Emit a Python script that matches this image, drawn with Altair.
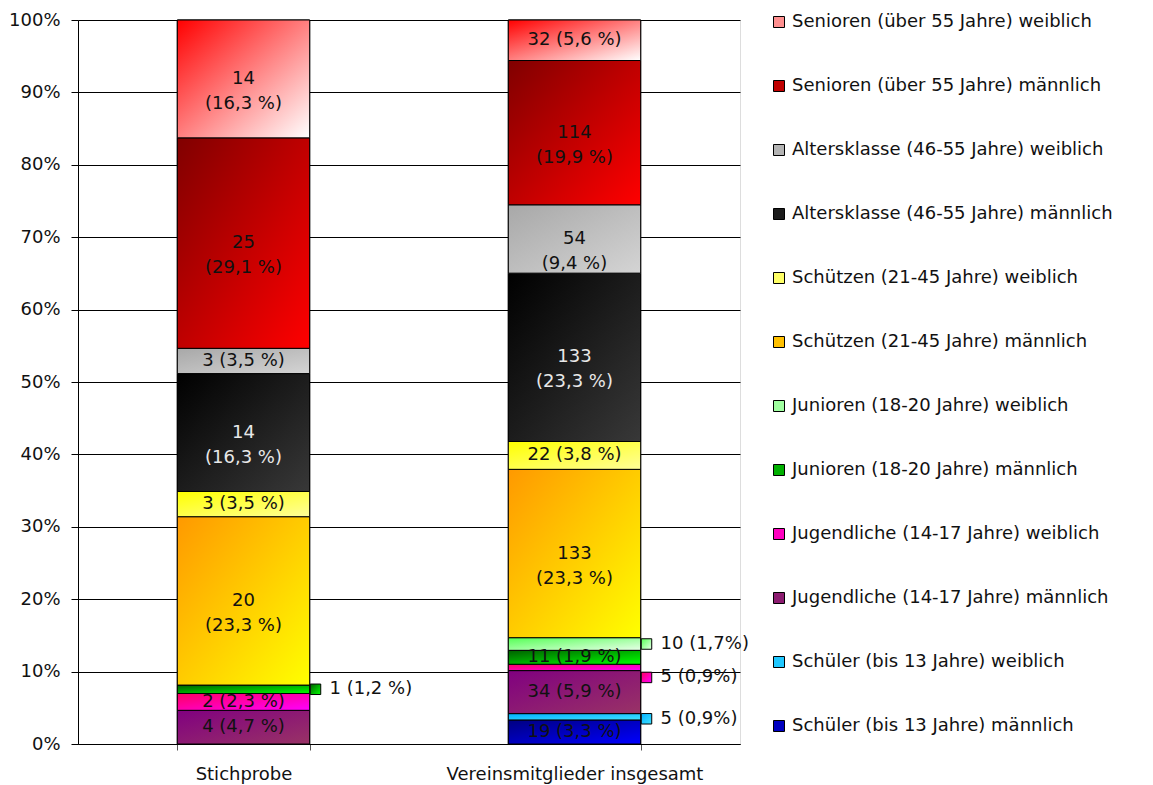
import altair as alt
import pandas as pd

categories = ["Stichprobe", "Vereinsmitglieder insgesamt"]

series = [
    "Schüler (bis 13 Jahre) männlich",
    "Schüler (bis 13 Jahre) weiblich",
    "Jugendliche (14-17 Jahre) männlich",
    "Jugendliche (14-17 Jahre) weiblich",
    "Junioren (18-20 Jahre) männlich",
    "Junioren (18-20 Jahre) weiblich",
    "Schützen (21-45 Jahre) männlich",
    "Schützen (21-45 Jahre) weiblich",
    "Altersklasse (46-55 Jahre) männlich",
    "Altersklasse (46-55 Jahre) weiblich",
    "Senioren (über 55 Jahre) männlich",
    "Senioren (über 55 Jahre) weiblich",
]

stichprobe = [0, 0, 4, 2, 1, 0, 20, 3, 14, 3, 25, 14]
vereinsmitglieder = [19, 5, 34, 5, 11, 10, 133, 22, 133, 54, 114, 32]

labels_stichprobe = ["", "", "4 (4,7 %)", "2 (2,3 %)", "1 (1,2 %)", "",
                     "20\n(23,3 %)", "3 (3,5 %)", "14\n(16,3 %)", "3 (3,5 %)",
                     "25\n(29,1 %)", "14\n(16,3 %)"]
labels_verein = ["19 (3,3 %)", "5 (0,9%)", "34 (5,9 %)", "5 (0,9%)", "11 (1,9 %)",
                 "10 (1,7%)", "133\n(23,3 %)", "22 (3,8 %)", "133\n(23,3 %)",
                 "54\n(9,4 %)", "114\n(19,9 %)", "32 (5,6 %)"]

# labels drawn outside the bar (category, series index)
outside = [(0, 4), (1, 1), (1, 3), (1, 5)]

# gradient start / end colours and legend colour per series
grad_start = ["#000080", "#00B0FF", "#800080", "#FF0060", "#006000", "#55FF55",
              "#FF9900", "#FFFF00", "#000000", "#A8A8A8", "#800000", "#FF0000"]
grad_end = ["#0000FF", "#40E0FF", "#993366", "#FF00FF", "#00FF00", "#E8FFE8",
            "#FFFF00", "#FFFF99", "#383838", "#D4D4D4", "#FF0000", "#FFFFFF"]
legend_col = ["#0000C0", "#20C8FF", "#8C1C70", "#FF00C0", "#00B000", "#A0FFA0",
              "#FFC000", "#FFFF66", "#1C1C1C", "#B4B4B4", "#C00000", "#FF9090"]

rows = []
for ci, (cat, vals, labs) in enumerate([(categories[0], stichprobe, labels_stichprobe),
                                        (categories[1], vereinsmitglieder, labels_verein)]):
    for i, s in enumerate(series):
        rows.append({"cat": cat, "series": s, "idx": i, "value": vals[i],
                     "label": labs[i], "out": (ci, i) in outside})
df = pd.DataFrame(rows)

FONT = "DejaVu Sans"
FS = 18

base = (
    alt.Chart(df)
    .transform_stack(stack="value", groupby=["cat"],
                     sort=[alt.SortField("idx", order="ascending")],
                     as_=["y0", "y1"], offset="normalize")
    .transform_filter("datum.value > 0")
    .transform_calculate(ym="(datum.y0 + datum.y1) / 2")
)

xenc = alt.X("cat:N", sort=categories, title=None,
             scale=alt.Scale(paddingInner=0.6, paddingOuter=0.3),
             axis=alt.Axis(labelAngle=0, labelFontSize=FS, labelColor="#111",
                           labelFont=FONT, labelPadding=15, tickBand="extent",
                           tickSize=6, tickColor="#555", domainColor="#000",
                           labelLimit=400))
yenc = alt.Y("y0:Q", title=None,
             scale=alt.Scale(domain=[0, 1], nice=False),
             axis=alt.Axis(values=[i / 10 for i in range(11)], format=".0%",
                           labelFontSize=FS, labelColor="#111", labelFont=FONT,
                           grid=True, gridColor="#000", gridWidth=1,
                           tickSize=7, tickColor="#000", labelPadding=11,
                           domainColor="#000"))

legend_layer = base.mark_bar(stroke="black", strokeWidth=1).encode(
    x=xenc, y=yenc, y2="y1:Q",
    color=alt.Color("series:N",
                    scale=alt.Scale(domain=list(reversed(series)),
                                    range=list(reversed(legend_col))),
                    legend=alt.Legend(orient="none", legendX=692, legendY=-7,
                                      title=None, symbolType="square",
                                      symbolSize=121, symbolStrokeColor="#000",
                                      symbolStrokeWidth=1, symbolOpacity=1,
                                      labelFontSize=FS, labelFont=FONT,
                                      labelColor="#111", labelLimit=0,
                                      rowPadding=46, labelOffset=4, padding=0)),
)

layers = [legend_layer]
for i, s in enumerate(series):
    g = alt.Gradient(gradient="linear",
                     stops=[alt.GradientStop(color=grad_start[i], offset=0),
                            alt.GradientStop(color=grad_end[i], offset=1)],
                     x1=0, y1=0, x2=1, y2=1)
    layers.append(
        base.transform_filter(alt.datum.series == s)
        .mark_bar(fill=g, stroke="black", strokeWidth=1)
        .encode(x="cat:N", y="y0:Q", y2="y1:Q")
    )

# inside labels
layers.append(
    base.transform_filter("!datum.out && datum.label != ''")
    .mark_text(fontSize=FS, font=FONT, lineBreak="\n", lineHeight=25,
               baseline="middle", align="center")
    .encode(x="cat:N", y="ym:Q", text="label:N",
            color=alt.condition(alt.datum.idx == 8, alt.value("#E8E8E8"),
                                alt.value("#111111")))
)

# outside markers and labels
for ci, i in outside:
    g = alt.Gradient(gradient="linear",
                     stops=[alt.GradientStop(color=grad_start[i], offset=0),
                            alt.GradientStop(color=grad_end[i], offset=1)],
                     x1=0, y1=0, x2=1, y2=1)
    dy = 10 if i == 3 else (2 if i == 1 else 0)
    sel = base.transform_filter((alt.datum.cat == categories[ci]) & (alt.datum.idx == i))
    layers.append(
        sel.mark_point(shape="square", size=110, filled=True, fill=g, opacity=1,
                       stroke="black", strokeWidth=1, xOffset=72, yOffset=dy)
        .encode(x="cat:N", y="ym:Q")
    )
    layers.append(
        sel.mark_text(fontSize=FS, font=FONT, align="left", baseline="middle",
                      dx=86, dy=dy, color="#111111")
        .encode(x="cat:N", y="ym:Q", text="label:N")
    )

chart = (
    alt.layer(*layers)
    .properties(width=662, height=724,
                autosize=alt.AutoSizeParams(type="none"),
                padding={"left": 70, "top": 12, "right": 405, "bottom": 50})
    .configure_view(fill="#C0C0C0", stroke=None)
    .configure(font=FONT)
)

chart.save("out.html", embed_options={"renderer": "svg", "actions": False})
